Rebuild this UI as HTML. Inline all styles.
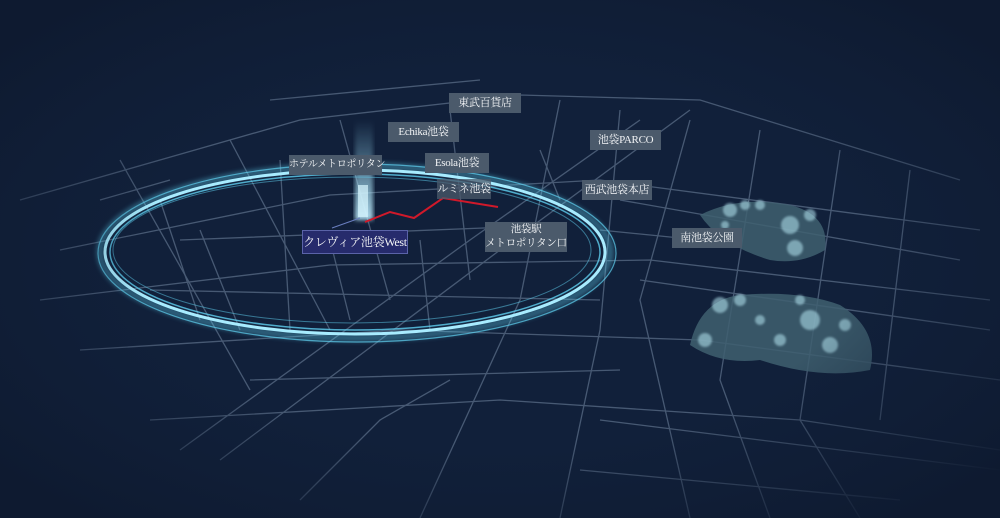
<!DOCTYPE html>
<html><head><meta charset="utf-8"><style>
html,body{margin:0;padding:0;background:#0f1c33;}
#w{position:relative;width:1000px;height:518px;overflow:hidden;background:#11203a;font-family:"Liberation Serif","Noto Serif CJK SC",serif;}
svg{position:absolute;left:0;top:0}
.l{position:absolute;background:#4b5a6b;color:#f2f4f6;font-size:11px;line-height:20px;text-align:center;white-space:nowrap;letter-spacing:-0.3px}
</style></head><body><div id="w">
<svg width="1000" height="518" viewBox="0 0 1000 518">
<defs>
<radialGradient id="vg" cx="50%" cy="50%" r="65%"><stop offset="55%" stop-color="#0f1c33" stop-opacity="0"/><stop offset="100%" stop-color="#0e1a30" stop-opacity="1"/></radialGradient>
<linearGradient id="tw" x1="0" y1="0" x2="0" y2="1"><stop offset="0" stop-color="#8fd8f0" stop-opacity="0"/><stop offset="1" stop-color="#bfeeff" stop-opacity="0.9"/></linearGradient>
<filter id="bl"><feGaussianBlur stdDeviation="2"/></filter>
<filter id="bl1"><feGaussianBlur stdDeviation="1"/></filter>
</defs>
<g stroke="#7e93ad" stroke-width="1.3" fill="none" opacity="0.5">
<path d="M20 200 L300 120 L520 95 L700 100 L960 180"/>
<path d="M60 250 L330 195 L600 180 L980 230"/>
<path d="M40 300 L330 265 L650 260 L990 300"/>
<path d="M80 350 L400 330 L700 340 L1000 380"/>
<path d="M150 420 L500 400 L800 420 L1000 450"/>
<path d="M120 160 L250 390 M230 140 L330 330 M340 120 L390 300 M450 110 L470 280"/>
<path d="M560 100 L520 300 L420 518 M620 110 L600 330 L560 518 M690 120 L640 300 L690 518"/>
<path d="M760 130 L720 380 L770 518 M840 150 L800 420 L860 518 M910 170 L880 420"/>
<path d="M180 450 L470 240 L640 120 M220 460 L500 250 L690 110"/>
<path d="M160 200 L200 320 M280 160 L290 330 M180 240 L560 225 M150 290 L600 300 M250 380 L620 370"/>
<path d="M600 420 L1000 470 M580 470 L900 500 M620 200 L960 260 M640 280 L990 330"/>
<path d="M300 500 L380 420 L450 380 M100 200 L170 180 M270 100 L480 80"/>
<path d="M200 230 L240 330 M330 240 L350 320 M420 240 L430 330 M540 150 L560 200 M600 230 L700 240"/>
</g>
<g fill="#3f6070" opacity="0.85">
<path d="M700 215 Q740 195 790 205 Q830 215 825 250 Q800 265 770 260 Q720 245 700 215Z"/>
<path d="M690 345 Q700 300 740 295 Q800 290 840 305 Q880 330 870 370 Q820 380 760 360 Q720 365 690 345Z"/>
</g>
<g fill="#b5e6f2" opacity="0.55" filter="url(#bl1)">
<circle cx="730" cy="210" r="7"/><circle cx="745" cy="205" r="5"/><circle cx="790" cy="225" r="9"/><circle cx="795" cy="248" r="8"/><circle cx="760" cy="205" r="5"/><circle cx="810" cy="215" r="6"/><circle cx="725" cy="225" r="4"/>
<circle cx="720" cy="305" r="8"/><circle cx="740" cy="300" r="6"/><circle cx="810" cy="320" r="10"/><circle cx="830" cy="345" r="8"/><circle cx="705" cy="340" r="7"/><circle cx="780" cy="340" r="6"/><circle cx="760" cy="320" r="5"/><circle cx="845" cy="325" r="6"/><circle cx="800" cy="300" r="5"/>
</g>
<rect x="355" y="120" width="18" height="100" fill="url(#tw)" filter="url(#bl)"/>
<rect x="358" y="185" width="10" height="32" fill="#d8f6ff" opacity="0.7"/>
<g fill="none" stroke="#5fd0f0">
<ellipse cx="355" cy="252" rx="255" ry="86" stroke-width="8" opacity="0.35" filter="url(#bl)"/>
<ellipse cx="355" cy="252" rx="250" ry="82" stroke-width="3" stroke="#a8ecff"/>
<ellipse cx="355" cy="252" rx="245" ry="78" stroke-width="1.5" opacity="0.8"/>
<ellipse cx="357" cy="253" rx="259" ry="89" stroke-width="1.2" opacity="0.7"/>
<ellipse cx="352" cy="250" rx="239" ry="73" stroke-width="1" opacity="0.5"/>
</g>
<polyline points="365,222 390,212 414,218 443,198 498,207" fill="none" stroke="#d0192a" stroke-width="2"/>
<line x1="332" y1="228" x2="360" y2="218" stroke="#6a7fc0" stroke-width="1"/>
<rect width="1000" height="518" fill="url(#vg)"/>
</svg>
<div class="l" style="left:449px;top:93px;width:72px">東武百貨店</div>
<div class="l" style="left:388px;top:122px;width:71px">Echika池袋</div>
<div class="l" style="left:590px;top:130px;width:71px">池袋PARCO</div>
<div class="l" style="left:289px;top:155px;width:93px;font-size:10px">ホテルメトロポリタン</div>
<div class="l" style="left:425px;top:153px;width:64px">Esola池袋</div>
<div class="l" style="left:437px;top:179px;width:54px;background:rgba(75,90,107,0.75)">ルミネ池袋</div>
<div class="l" style="left:582px;top:180px;width:70px">西武池袋本店</div>
<div class="l" style="left:485px;top:222px;width:82px;line-height:14px;padding:1px 0;font-size:10.5px">池袋駅<br>メトロポリタン口</div>
<div class="l" style="left:302px;top:230px;width:104px;height:22px;line-height:22px;background:#262b6c;border:1px solid #5a63a8;font-size:12px">クレヴィア池袋West</div>
<div class="l" style="left:672px;top:228px;width:70px">南池袋公園</div>
</div></body></html>
